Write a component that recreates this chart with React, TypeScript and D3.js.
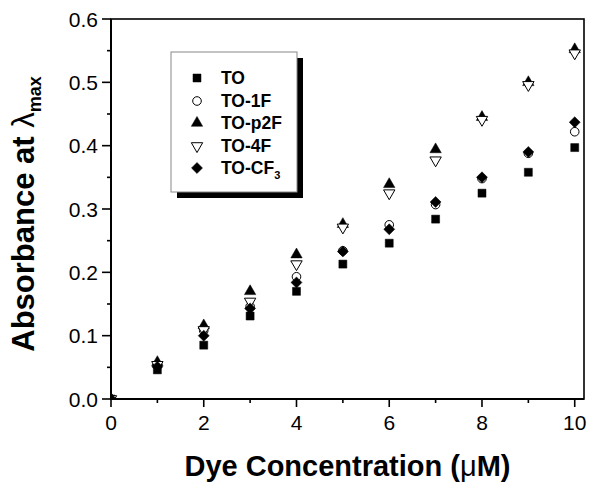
import React from "react";
import * as d3 from "d3";

const concentrations = [0, 1, 2, 3, 4, 5, 6, 7, 8, 9, 10];
const seriesNames = ["TO", "TO-1F", "TO-p2F", "TO-4F", "TO-CF3"];
const valuesTO = [0, 0.046, 0.085, 0.131, 0.170, 0.213, 0.246, 0.284, 0.325, 0.358, 0.397];
const valuesTO1F = [0, 0.053, 0.108, 0.146, 0.193, 0.234, 0.275, 0.307, 0.348, 0.388, 0.422];
const valuesTOp2F = [0, 0.058, 0.116, 0.170, 0.228, 0.276, 0.339, 0.394, 0.445, 0.500, 0.552];
const valuesTO4F = [0, 0.054, 0.109, 0.154, 0.213, 0.271, 0.325, 0.377, 0.441, 0.496, 0.546];
const valuesTOCF3 = [0, 0.051, 0.100, 0.143, 0.184, 0.233, 0.268, 0.311, 0.350, 0.390, 0.437];
const xTicks = [0, 2, 4, 6, 8, 10];
const xMinorTicks = [1, 3, 5, 7, 9];
const yTicks = [0, 0.1, 0.2, 0.3, 0.4, 0.5, 0.6];
const yMinorTicks = [0.05, 0.15, 0.25, 0.35, 0.45, 0.55];

const W = 600, H = 488;
const L = 111, R = 584, T = 19, B = 399;
const FONT = "'Liberation Sans', Arial, sans-serif";

const x = d3.scaleLinear().domain([0, 10.2]).range([L, R]);
const y = d3.scaleLinear().domain([0, 0.6]).range([B, T]);

type Kind = "square" | "circle" | "tri" | "itri" | "diamond";
const kinds: Kind[] = ["square", "circle", "tri", "itri", "diamond"];
const allValues = [valuesTO, valuesTO1F, valuesTOp2F, valuesTO4F, valuesTOCF3];

function Marker({ kind, cx, cy }: { kind: Kind; cx: number; cy: number }) {
  if (kind === "circle")
    return <circle cx={cx} cy={cy} r={4.3} fill="#fff" stroke="#000" strokeWidth={1} />;
  let d = "";
  let rot = 0;
  let fill = "#000";
  if (kind === "square") d = d3.symbol(d3.symbolSquare, 64)() || "";
  if (kind === "diamond") { d = d3.symbol(d3.symbolSquare, 60)() || ""; rot = 45; }
  if (kind === "tri") d = d3.symbol(d3.symbolTriangle, 56)() || "";
  if (kind === "itri") { d = d3.symbol(d3.symbolTriangle, 56)() || ""; rot = 180; fill = "#fff"; }
  return (
    <path
      d={d}
      transform={`translate(${cx},${cy}) rotate(${rot})`}
      fill={fill}
      stroke="#000"
      strokeWidth={kind === "itri" ? 1 : 0.5}
    />
  );
}

export default function App() {
  const legendX = 171, legendY = 52, legendW = 126, legendH = 140;
  const rowY = [78, 101, 123, 146, 168];
  return (
    <svg width={W} height={H} style={{ position: "absolute", left: 0, top: 0, background: "#fff" }}>
      <defs>
        <clipPath id="plotClip">
          <rect x={L} y={T} width={R - L} height={B - T} />
        </clipPath>
      </defs>
      <rect x={0} y={0} width={W} height={H} fill="#fff" />
      {/* data */}
      <g clipPath="url(#plotClip)">
        {allValues.map((vals, si) =>
          vals.map((v, i) => (
            <Marker key={`${si}-${i}`} kind={kinds[si]} cx={x(concentrations[i])} cy={y(v)} />
          ))
        )}
      </g>
      {/* frame */}
      <rect x={L} y={T} width={R - L} height={B - T} fill="none" stroke="#000" strokeWidth={1.6} />
      <line x1={L} x2={L} y1={T} y2={B} stroke="#000" strokeWidth={2} />
      <line x1={L} x2={R} y1={B} y2={B} stroke="#000" strokeWidth={2} />
      {/* x ticks */}
      {xTicks.map((t) => (
        <g key={`xt${t}`}>
          <line x1={x(t)} x2={x(t)} y1={B} y2={B + 8} stroke="#000" strokeWidth={1.6} />
          <text x={x(t)} y={430} textAnchor="middle" fontFamily={FONT} fontSize={21}>
            {t}
          </text>
        </g>
      ))}
      {xMinorTicks.map((t) => (
        <line key={`xm${t}`} x1={x(t)} x2={x(t)} y1={B} y2={B + 4} stroke="#000" strokeWidth={1.6} />
      ))}
      {/* y ticks */}
      {yTicks.map((t) => (
        <g key={`yt${t}`}>
          <line x1={L - 9} x2={L} y1={y(t)} y2={y(t)} stroke="#000" strokeWidth={1.6} />
          <text x={98} y={y(t) + 7.5} textAnchor="end" fontFamily={FONT} fontSize={21}>
            {t.toFixed(1)}
          </text>
        </g>
      ))}
      {yMinorTicks.map((t) => (
        <line key={`ym${t}`} x1={L - 4} x2={L} y1={y(t)} y2={y(t)} stroke="#000" strokeWidth={1.6} />
      ))}
      {/* axis titles */}
      <text x={(L + R) / 2} y={476} textAnchor="middle" fontFamily={FONT} fontSize={29} fontWeight="bold">
        Dye Concentration (<tspan fontWeight="normal">μ</tspan>M)
      </text>
      <text
        transform={`translate(34,${(T + B) / 2 + 5}) rotate(-90)`}
        textAnchor="middle"
        fontFamily={FONT}
        fontSize={31}
        fontWeight="bold"
      >
        Absorbance at <tspan fontWeight="normal">λ</tspan>
        <tspan fontSize={18} dy={7} fontWeight="bold">max</tspan>
      </text>
      {/* legend */}
      <rect x={legendX + 6} y={legendY + 6} width={legendW} height={legendH} fill="#000" />
      <rect x={legendX} y={legendY} width={legendW} height={legendH} fill="#fff" stroke="#888" strokeWidth={1} />
      {seriesNames.map((name, i) => (
        <g key={name}>
          <Marker kind={kinds[i]} cx={197} cy={rowY[i]} />
          <text x={221} y={rowY[i] + 6} fontFamily={FONT} fontSize={17.5} fontWeight="bold">
            {name === "TO-CF3" ? (
              <>
                TO-CF<tspan fontSize={11} dy={5}>3</tspan>
              </>
            ) : (
              name
            )}
          </text>
        </g>
      ))}
    </svg>
  );
}
